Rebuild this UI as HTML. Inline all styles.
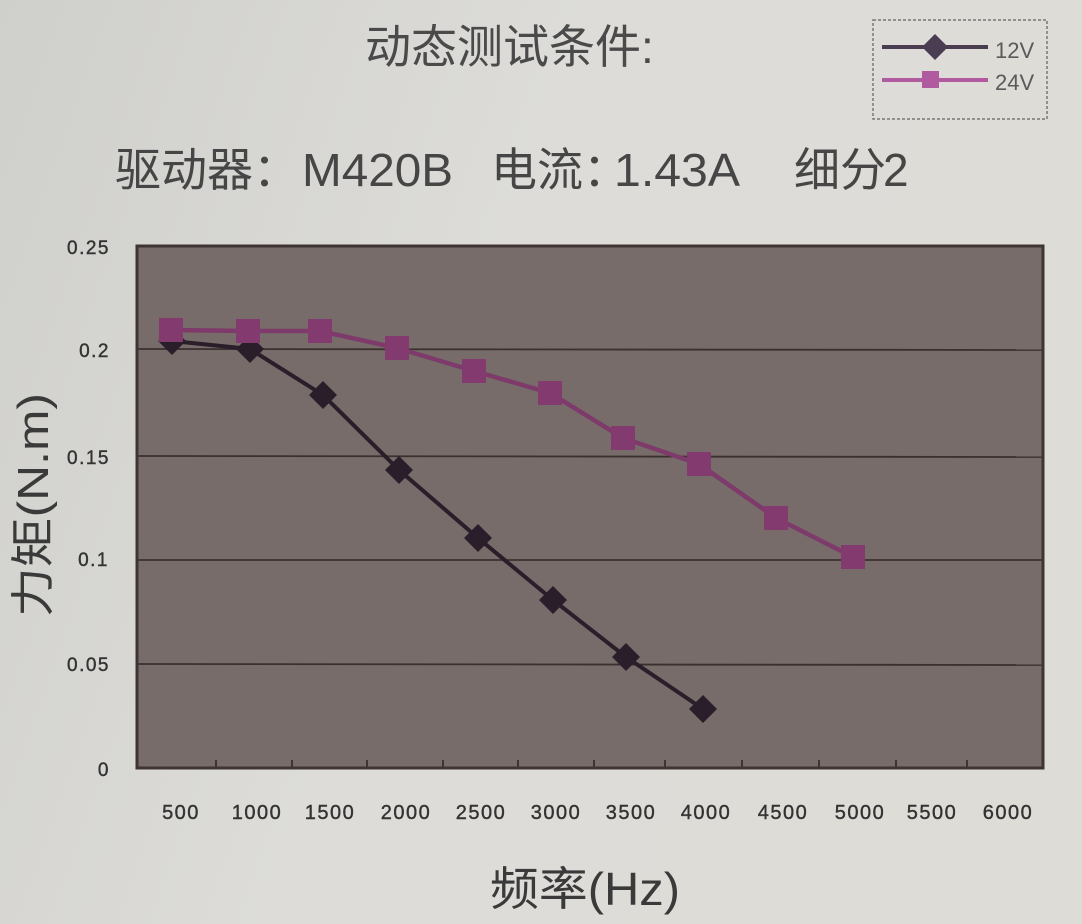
<!DOCTYPE html>
<html><head><meta charset="utf-8"><style>
html,body{margin:0;padding:0;}
body{width:1082px;height:924px;overflow:hidden;background:#d9d8d4;}
svg{display:block;}
text{font-family:"Liberation Sans","Noto Sans CJK SC",sans-serif;}
</style></head><body>
<svg width="1082" height="924" viewBox="0 0 1082 924" xmlns="http://www.w3.org/2000/svg">
<defs>
<linearGradient id="bg" x1="0" y1="0" x2="1" y2="0.3">
<stop offset="0" stop-color="#cfcfcc"/>
<stop offset="0.5" stop-color="#dddcd8"/>
<stop offset="1" stop-color="#dedcd7"/>
</linearGradient>
</defs>
<rect x="0" y="0" width="1082" height="924" fill="url(#bg)"/>

<!-- title -->
<text x="365" y="63" font-size="46" fill="#4a4a4a" font-family="'Noto Sans CJK SC',sans-serif">动态测试条件:</text>

<!-- subtitle -->
<g font-size="46" fill="#464646">
<text x="115" y="186" font-family="'Noto Sans CJK SC',sans-serif">驱动器：</text>
<text x="302" y="186" textLength="151" lengthAdjust="spacingAndGlyphs">M420B</text>
<text x="491" y="186" font-family="'Noto Sans CJK SC',sans-serif">电流：</text>
<text x="614" y="186" textLength="126" lengthAdjust="spacingAndGlyphs">1.43A</text>
<text x="794" y="186" font-family="'Noto Sans CJK SC',sans-serif">细分</text>
<text x="883" y="186">2</text>
</g>

<!-- legend -->
<rect x="873" y="20" width="174" height="99" fill="none" stroke="#777" stroke-width="1.5" stroke-dasharray="3,2"/>
<line x1="882" y1="47" x2="988" y2="47" stroke="#4a3d52" stroke-width="4"/>
<polygon points="935,34 948,47 935,60 922,47" fill="#4a3d52"/>
<line x1="882" y1="80" x2="988" y2="80" stroke="#b05aa0" stroke-width="4"/>
<rect x="922" y="71" width="17" height="17" fill="#b05aa0"/>
<text x="995" y="58" font-size="22" fill="#5a5a5a">12V</text>
<text x="995" y="90" font-size="22" fill="#5a5a5a">24V</text>

<!-- plot area -->
<rect x="137" y="246" width="906" height="522" fill="#776c69"/>
<g stroke="#3a302e" stroke-width="1.8">
<line x1="137" y1="349" x2="1043" y2="350"/>
<line x1="137" y1="456" x2="1043" y2="457"/>
<line x1="137" y1="560" x2="1043" y2="560"/>
<line x1="137" y1="664" x2="1043" y2="665"/>
</g>
<rect x="137" y="246" width="906" height="522" fill="none" stroke="#3e3533" stroke-width="3"/>
<g stroke="#3e3533" stroke-width="2">
<line x1="216" y1="760" x2="216" y2="768"/>
<line x1="292" y1="760" x2="292" y2="768"/>
<line x1="367" y1="760" x2="367" y2="768"/>
<line x1="443" y1="760" x2="443" y2="768"/>
<line x1="518" y1="760" x2="518" y2="768"/>
<line x1="594" y1="760" x2="594" y2="768"/>
<line x1="665" y1="760" x2="665" y2="768"/>
<line x1="742" y1="760" x2="742" y2="768"/>
<line x1="819" y1="760" x2="819" y2="768"/>
<line x1="896" y1="760" x2="896" y2="768"/>
<line x1="967" y1="760" x2="967" y2="768"/>
</g>

<!-- y tick labels -->
<g font-size="19" fill="#333" stroke="#333" stroke-width="0.4" text-anchor="end" letter-spacing="1.5">
<text x="110" y="254">0.25</text>
<text x="110" y="357">0.2</text>
<text x="110" y="464">0.15</text>
<text x="109" y="566">0.1</text>
<text x="110" y="671">0.05</text>
<text x="110" y="776">0</text>
</g>

<!-- x tick labels -->
<g font-size="20" fill="#333" stroke="#333" stroke-width="0.4" text-anchor="middle" letter-spacing="1.5">
<text x="181" y="819">500</text>
<text x="257" y="819">1000</text>
<text x="330" y="819">1500</text>
<text x="406" y="819">2000</text>
<text x="481" y="819">2500</text>
<text x="556" y="819">3000</text>
<text x="631" y="819">3500</text>
<text x="706" y="819">4000</text>
<text x="783" y="819">4500</text>
<text x="860" y="819">5000</text>
<text x="932" y="819">5500</text>
<text x="1008" y="819">6000</text>
</g>

<!-- 12V series -->
<polyline points="172,341 250,349 323,395 399,470 478,538 553,600 626,657 703,709" fill="none" stroke="#2a1e2a" stroke-width="4"/>
<g fill="#2a1e2a">
<polygon points="172,327 186,341 172,355 158,341"/>
<polygon points="250,335 264,349 250,363 236,349"/>
<polygon points="323,381 337,395 323,409 309,395"/>
<polygon points="399,456 413,470 399,484 385,470"/>
<polygon points="478,524 492,538 478,552 464,538"/>
<polygon points="553,586 567,600 553,614 539,600"/>
<polygon points="626,643 640,657 626,671 612,657"/>
<polygon points="703,695 717,709 703,723 689,709"/>
</g>

<!-- 24V series -->
<polyline points="171,330 248,331 320,331 397,348 474,371 550,393 623,438 699,464 776,518 853,557" fill="none" stroke="#7e3a6a" stroke-width="4.5"/>
<g fill="#833a6e">
<rect x="159" y="318" width="24" height="24"/>
<rect x="236" y="319" width="24" height="24"/>
<rect x="308" y="319" width="24" height="24"/>
<rect x="385" y="336" width="24" height="24"/>
<rect x="462" y="359" width="24" height="24"/>
<rect x="538" y="381" width="24" height="24"/>
<rect x="611" y="426" width="24" height="24"/>
<rect x="687" y="452" width="24" height="24"/>
<rect x="764" y="506" width="24" height="24"/>
<rect x="841" y="545" width="24" height="24"/>
</g>

<!-- axis titles -->
<text transform="translate(48,505) rotate(-90)" text-anchor="middle" font-size="44" fill="#3a3a3a" textLength="224" lengthAdjust="spacingAndGlyphs">力矩(N.m)</text>
<text x="490" y="905" font-size="46" fill="#3a3a3a" textLength="190" lengthAdjust="spacingAndGlyphs">频率(Hz)</text>
</svg>
</body></html>
